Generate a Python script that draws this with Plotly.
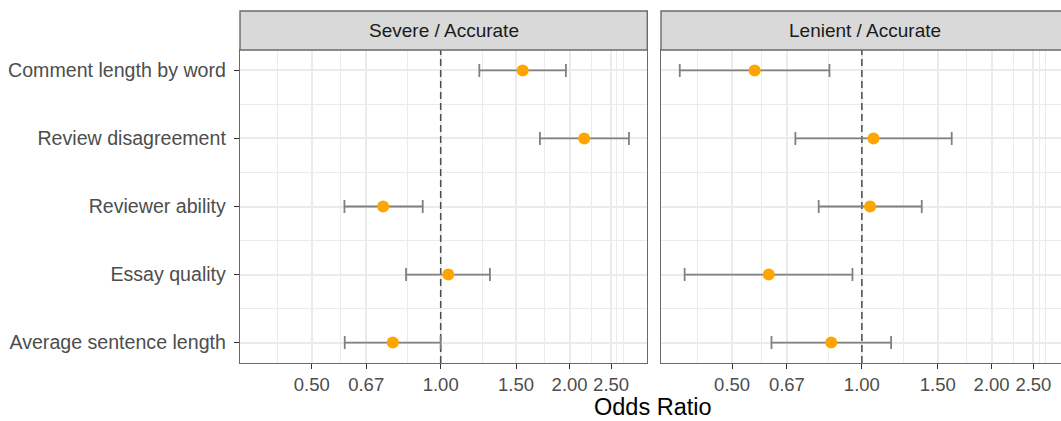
import plotly.graph_objects as go

categories = ["Comment length by word", "Review disagreement", "Reviewer ability",
              "Essay quality", "Average sentence length"]
panels = ["Severe / Accurate", "Lenient / Accurate"]

severe_or = [1.554, 2.164, 0.734, 1.042, 0.773]
severe_lo = [1.231, 1.705, 0.596, 0.830, 0.597]
severe_hi = [1.961, 2.752, 0.908, 1.303, 1.000]

lenient_or = [0.564, 1.064, 1.045, 0.608, 0.849]
lenient_lo = [0.378, 0.701, 0.794, 0.388, 0.617]
lenient_hi = [0.841, 1.616, 1.377, 0.951, 1.169]

null_or = 1.0
tick_vals = [0.5, 0.67, 1.0, 1.5, 2.0, 2.5]
tick_text = ["0.50", "0.67", "1.00", "1.50", "2.00", "2.50"]
minor_vals = [0.415, 0.585, 0.835, 1.25, 1.75, 2.25, 2.58, 2.67]

FONT = "Liberation Sans, Arial, sans-serif"
GRID = "#EBEBEB"
BORDER = "#6a6a6a"
Y_RANGE = [0.7, 5.3]

ypos = [len(categories) - i for i in range(len(categories))]

fig = go.Figure()
series = [(severe_or, severe_lo, severe_hi, "x", "y"),
          (lenient_or, lenient_lo, lenient_hi, "x2", "y2")]
for orr, lo, hi, xa, ya in series:
    # dashed reference line at OR = 1
    fig.add_trace(go.Scatter(
        x=[null_or, null_or], y=Y_RANGE, mode="lines", xaxis=xa, yaxis=ya,
        line=dict(color="#4D4D4D", width=1.5, dash="7px,4px"),
        showlegend=False, hoverinfo="skip"))
    fig.add_trace(go.Scatter(
        x=orr, y=ypos, mode="markers", xaxis=xa, yaxis=ya,
        marker=dict(color="#FFA500", size=12, line=dict(width=0)),
        error_x=dict(type="data", symmetric=False,
                     array=[h - o for h, o in zip(hi, orr)],
                     arrayminus=[o - l for o, l in zip(orr, lo)],
                     color="#808080", thickness=1.8, width=6.5),
        showlegend=False, hoverinfo="skip"))

L_DOM = [0.0, 0.4961]
R_DOM = [0.5128, 1.0]

xcommon = dict(type="log", tickmode="array", tickvals=tick_vals, ticktext=tick_text,
               ticks="outside", ticklen=5, tickwidth=1.3, tickcolor="#333333",
               tickfont=dict(family=FONT, size=18.5, color="#4D4D4D"),
               showgrid=True, gridcolor=GRID, gridwidth=1.6,
               minor=dict(tickmode="array", tickvals=minor_vals, showgrid=True,
                          gridcolor=GRID, gridwidth=1.0, ticks=""),
               zeroline=False, showline=True, linecolor=BORDER, linewidth=1.4,
               mirror=True)
ycommon = dict(range=Y_RANGE, tickmode="array", tickvals=ypos,
               showgrid=True, gridcolor=GRID, gridwidth=1.6,
               minor=dict(tickmode="array", tickvals=[1.5, 2.5, 3.5, 4.5],
                          showgrid=True, gridcolor=GRID, gridwidth=1.0, ticks=""),
               zeroline=False, showline=True, linecolor=BORDER, linewidth=1.4)

fig.update_layout(
    xaxis=dict(xcommon, domain=L_DOM, range=[-0.4686, 0.4825], anchor="y"),
    xaxis2=dict(xcommon, domain=R_DOM, range=[-0.466, 0.462], anchor="y2"),
    yaxis=dict(ycommon, ticktext=categories, ticks="outside", ticklen=5,
               tickwidth=1.3, tickcolor="#333333", ticklabelstandoff=4,
               tickfont=dict(family=FONT, size=19.6, color="#4D4D4D"),
               mirror=True, anchor="x"),
    yaxis2=dict(ycommon, ticktext=categories, showticklabels=False, ticks="",
                mirror=False, anchor="x2"),
)

# strips
strip_h = 39 / 313
for dom, x1, label, cx in [(L_DOM, L_DOM[1], panels[0], sum(L_DOM) / 2),
                           (R_DOM, 1.03, panels[1], 0.7607)]:
    fig.add_shape(type="rect", xref="paper", yref="paper", x0=dom[0], x1=x1,
                  y0=1, y1=1 + strip_h, fillcolor="#D9D9D9",
                  line=dict(color=BORDER, width=1.4), layer="above")
    fig.add_annotation(xref="paper", yref="paper", x=cx, y=1 + strip_h / 2,
                       text=label, showarrow=False, xanchor="center", yanchor="middle",
                       font=dict(family=FONT, size=19, color="#1A1A1A"))

fig.add_annotation(xref="paper", yref="paper", x=(653 - 240) / 821, y=-(407 - 363) / 313,
                   text="Odds Ratio", showarrow=False, xanchor="center", yanchor="middle",
                   font=dict(family=FONT, size=23.5, color="#000000"))

fig.update_layout(width=1061, height=421,
                  margin=dict(l=240, r=0, t=50, b=58, autoexpand=False),
                  paper_bgcolor="white", plot_bgcolor="white",
                  font=dict(family=FONT))

fig.write_html("out.html", config={"displayModeBar": False},
               post_script="document.body.style.margin='0';"
                           "document.body.style.overflow='hidden';")
